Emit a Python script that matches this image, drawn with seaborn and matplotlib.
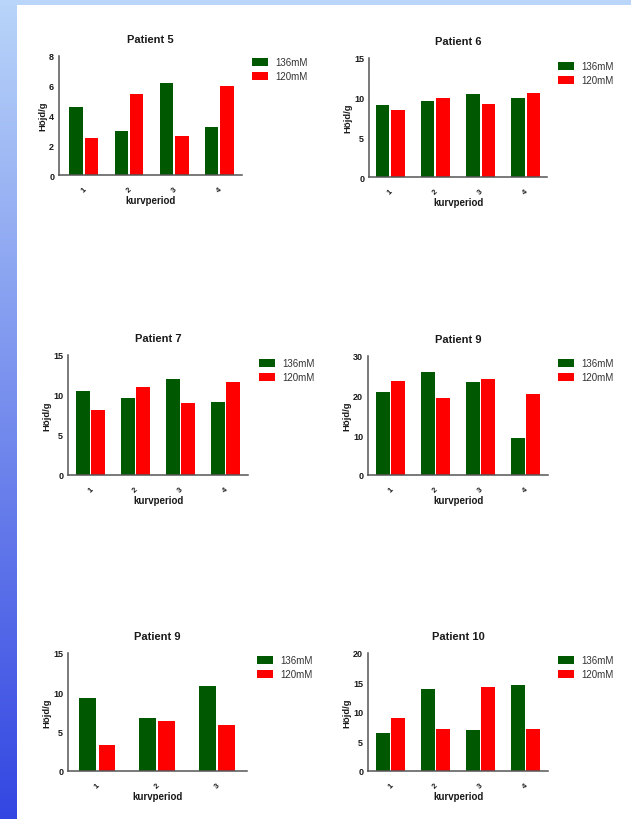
import numpy as np
import pandas as pd
import matplotlib
matplotlib.use("Agg")
import matplotlib.pyplot as plt
import seaborn as sns

# ---- data ----
series_names = ["136mM", "120mM"]
titles = ["Patient 5", "Patient 6", "Patient 7", "Patient 9", "Patient 9", "Patient 10"]
periods4 = ["1", "2", "3", "4"]
periods3 = ["1", "2", "3"]

p5_136 = [4.55, 2.95, 6.2, 3.2]
p5_120 = [2.5, 5.45, 2.65, 5.95]
p6_136 = [9.1, 9.6, 10.4, 9.9]
p6_120 = [8.5, 9.9, 9.2, 10.55]
p7_136 = [10.45, 9.6, 12.05, 9.1]
p7_120 = [8.15, 10.95, 9.0, 11.6]
p8_136 = [20.8, 25.9, 23.4, 9.3]
p8_120 = [23.6, 19.4, 24.2, 20.5]
p9_136 = [9.25, 6.75, 10.8]
p9_120 = [3.3, 6.35, 5.8]
p10_136 = [6.5, 13.9, 7.0, 14.6]
p10_120 = [9.0, 7.05, 14.2, 7.2]

ymaxes = [8, 15, 15, 30, 15, 20]
yticks = [[0, 2, 4, 6, 8], [0, 5, 10, 15], [0, 5, 10, 15],
          [0, 10, 20, 30], [0, 5, 10, 15], [0, 5, 10, 15, 20]]

# ---- style ----
sns.set_theme(style="white")
plt.rcParams["font.family"] = ["Liberation Sans", "DejaVu Sans"]

W, H = 631, 820
fig = plt.figure(figsize=(W / 100, H / 100), dpi=100)
fig.patch.set_facecolor("white")

# slide background: light top strip and left gradient strip
bg = np.ones((H, W, 3))
top_c = np.array([0xb9, 0xd5, 0xf9]) / 255
bot_c = np.array([0x33, 0x46, 0xe2]) / 255
t = np.linspace(0, 1, H)[:, None]
grad = top_c[None, :] * (1 - t) + bot_c[None, :] * t
bg[:, :17, :] = grad[:, None, :]
bg[:6, :, :] = top_c
bga = fig.add_axes([0, 0, 1, 1], zorder=-10)
bga.imshow(bg, aspect="auto", interpolation="nearest")
bga.axis("off")

def rect(l, r, t_, b):
    return [l / W, 1 - b / H, (r - l) / W, (b - t_) / H]

panels = [
    dict(d=(p5_136, p5_120), cats=periods4, box=(59, 242, 57, 176), xlim=(-0.55, 3.5), leg=(252, 58)),
    dict(d=(p6_136, p6_120), cats=periods4, box=(369, 547, 59, 178), xlim=(-0.47, 3.47), leg=(558, 62)),
    dict(d=(p7_136, p7_120), cats=periods4, box=(68, 248, 356, 476), xlim=(-0.5, 3.5), leg=(259, 359)),
    dict(d=(p8_136, p8_120), cats=periods4, box=(368, 548, 357, 476), xlim=(-0.5, 3.5), leg=(558, 359)),
    dict(d=(p9_136, p9_120), cats=periods3, box=(68, 247, 654, 772), xlim=(-0.49, 2.5), leg=(257, 656)),
    dict(d=(p10_136, p10_120), cats=periods4, box=(368, 548, 654, 772), xlim=(-0.5, 3.5), leg=(558, 656)),
]

palette = {"136mM": "#005800", "120mM": "#ff0000"}
axis_c = "#555555"
text_c = "#1a1a1a"

for i, p in enumerate(panels):
    a136, a120 = p["d"]
    cats = p["cats"]
    df = pd.DataFrame({
        "kurvperiod": cats * 2,
        "serie": [series_names[0]] * len(cats) + [series_names[1]] * len(cats),
        "value": list(a136) + list(a120),
    })
    ax = fig.add_axes(rect(*p["box"]))
    width = 0.68 if len(cats) == 4 else 0.64
    sns.barplot(data=df, x="kurvperiod", y="value", hue="serie", order=cats,
                hue_order=series_names, palette=palette, width=width, gap=0.13,
                saturation=1, ax=ax, errorbar=None, linewidth=0)
    ax.set_facecolor("none")
    ax.set_xlim(*p["xlim"])
    ax.set_ylim(0, ymaxes[i])
    ax.set_yticks(yticks[i])
    for s in ["top", "right"]:
        ax.spines[s].set_visible(False)
    for s in ["left", "bottom"]:
        ax.spines[s].set_color(axis_c)
        ax.spines[s].set_linewidth(1.1)
    ax.tick_params(axis="both", which="both", direction="out", length=3, width=1,
                   color=axis_c, labelcolor=text_c)
    ax.tick_params(axis="y", labelsize=6.5, length=2.5, pad=1)
    ax.tick_params(axis="x", labelsize=5.5, pad=4.5)
    for lab in ax.get_yticklabels():
        lab.set_fontweight("bold")
    for lab in ax.get_xticklabels():
        lab.set_fontweight("bold")
        lab.set_rotation(45)
        lab.set_ha("center")
        lab.set_va("top")
    ax.set_xlabel("kurvperiod", fontsize=7, fontweight="bold", color=text_c, labelpad=1)
    ax.set_ylabel("Höjd/g", fontsize=6.8, fontweight="bold", color=text_c, labelpad=1.5)
    ax.set_title(titles[i], fontsize=8, fontweight="bold", color=text_c, pad=10)
    handles, labels = ax.get_legend_handles_labels()
    ax.legend(handles, labels, loc="upper left",
              bbox_to_anchor=(p["leg"][0] / W, 1 - p["leg"][1] / H),
              bbox_transform=fig.transFigure, frameon=False,
              fontsize=7, handlelength=1.6, handleheight=0.9,
              handletextpad=0.8, labelspacing=0.45, borderpad=0,
              borderaxespad=0, labelcolor="#333333")

fig.savefig("out.png", dpi=100)
